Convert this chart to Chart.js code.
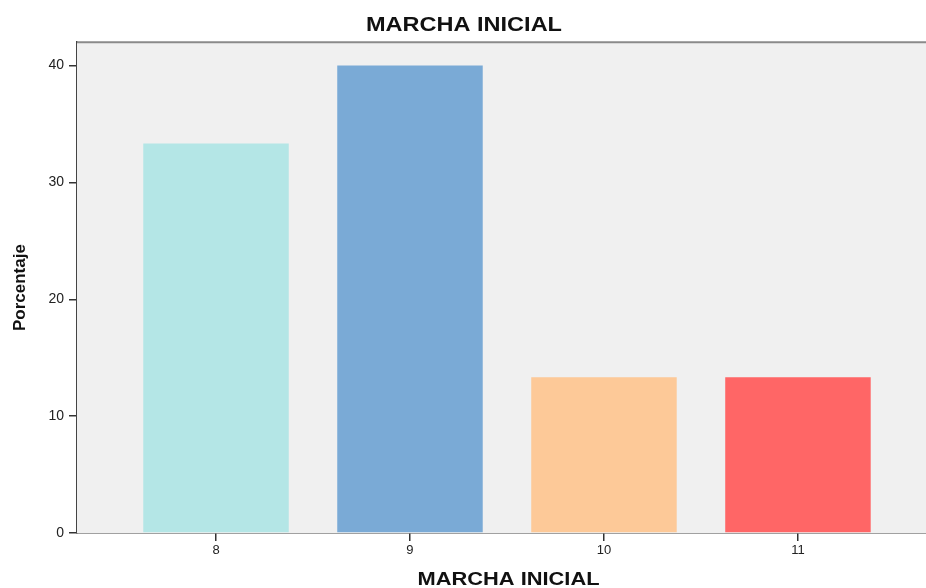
<!DOCTYPE html>
<html>
<head>
<meta charset="utf-8">
<title>MARCHA INICIAL</title>
<script src="https://cdn.jsdelivr.net/npm/chart.js@4"></script>
<style>
  html, body { margin: 0; padding: 0; background: #ffffff; }
  #wrap { width: 926px; height: 588px; }
</style>
</head>
<body>
<div id="wrap"><canvas id="chart" width="926" height="588"></canvas></div>
<script>
// Percentage of cases by initial gait score
const categories = [8, 9, 10, 11];
const percentages = [33.33, 40.0, 13.33, 13.33];
const barColors = ['#b4e6e6', '#7aaad6', '#fdc998', '#ff6666'];
const yTicks = [0, 10, 20, 30, 40];

const FONT = '"Liberation Sans", Arial, sans-serif';

// Panel background and top frame line of the plotting area
const plotFrame = {
  id: 'plotFrame',
  beforeDatasetsDraw(chart) {
    const { ctx, chartArea: a } = chart;
    ctx.save();
    ctx.fillStyle = '#f0f0f0';
    ctx.fillRect(a.left, a.top, a.right - a.left, a.bottom - a.top);
    ctx.strokeStyle = '#8a8a8a';
    ctx.lineWidth = 2;
    ctx.beginPath();
    ctx.moveTo(a.left, a.top);
    ctx.lineTo(a.right, a.top);
    ctx.stroke();
    ctx.restore();
  }
};

// Horizontally widened lettering for the chart title and the x-axis title
function widened(fn, ctx, box, factor, shift) {
  return function (...args) {
    const cx = (box.left + box.right) / 2;
    ctx.save();
    ctx.translate(cx + shift, 0);
    ctx.scale(factor, 1);
    ctx.translate(-cx, 0);
    const r = fn.apply(this, args);
    ctx.restore();
    return r;
  };
}
const wideTitles = {
  id: 'wideTitles',
  afterLayout(chart) {
    if (chart.$widened) return;
    chart.$widened = true;
    const ctx = chart.ctx;
    if (chart.titleBlock) {
      const tb = chart.titleBlock;
      tb.draw = widened(tb.draw, ctx, tb, 1.12, 1);
    }
    const xs = chart.scales.x;
    xs.drawTitle = widened(xs.drawTitle, ctx, xs, 1.15, 7);
  }
};

new Chart(document.getElementById('chart'), {
  type: 'bar',
  data: {
    datasets: [{
      label: 'Porcentaje',
      data: categories.map((c, i) => ({ x: c, y: percentages[i] })),
      backgroundColor: barColors,
      borderWidth: 0,
      barPercentage: 0.75,
      categoryPercentage: 1.0
    }]
  },
  options: {
    responsive: false,
    animation: false,
    layout: { padding: { left: 0, right: 0, top: 0, bottom: 0 } },
    plugins: {
      legend: { display: false },
      tooltip: { enabled: false },
      title: {
        display: true,
        text: 'MARCHA INICIAL',
        color: '#111111',
        font: { family: FONT, size: 21, weight: 'bold', lineHeight: 1.2 },
        padding: { top: 13, bottom: 4 }
      }
    },
    scales: {
      x: {
        type: 'linear',
        offset: false,
        min: 7.2835,
        max: 11.66,
        afterBuildTicks(scale) {
          scale.ticks = categories.map(v => ({ value: v }));
        },
        afterFit(scale) { scale.height = 55; },
        ticks: {
          color: '#222222',
          font: { family: FONT, size: 13 },
          padding: 2,
          callback: v => String(v)
        },
        grid: {
          display: true,
          offset: false,
          drawOnChartArea: false,
          drawTicks: true,
          tickLength: 8,
          color: '#333333',
          lineWidth: 1.5
        },
        border: { display: true, color: '#444444', width: 1.5 },
        title: {
          display: true,
          text: 'MARCHA INICIAL',
          color: '#111111',
          font: { family: FONT, size: 19, weight: 'bold', lineHeight: 0.85 },
          padding: { top: 0, bottom: 0 }
        }
      },
      y: {
        min: 0,
        max: 42,
        afterBuildTicks(scale) {
          scale.ticks = yTicks.map(v => ({ value: v }));
        },
        afterFit(scale) { scale.width = 77; },
        ticks: {
          color: '#222222',
          font: { family: FONT, size: 14 },
          padding: 5
        },
        grid: {
          display: true,
          offset: false,
          drawOnChartArea: false,
          drawTicks: true,
          tickLength: 8,
          color: '#333333',
          lineWidth: 1.5
        },
        border: { display: true, color: '#444444', width: 1.5 },
        title: {
          display: true,
          text: 'Porcentaje',
          color: '#111111',
          font: { family: FONT, size: 17, weight: 'bold', lineHeight: 1.2 },
          padding: { top: 10, bottom: 0 }
        }
      }
    }
  },
  plugins: [plotFrame, wideTitles]
});
</script>
</body>
</html>
